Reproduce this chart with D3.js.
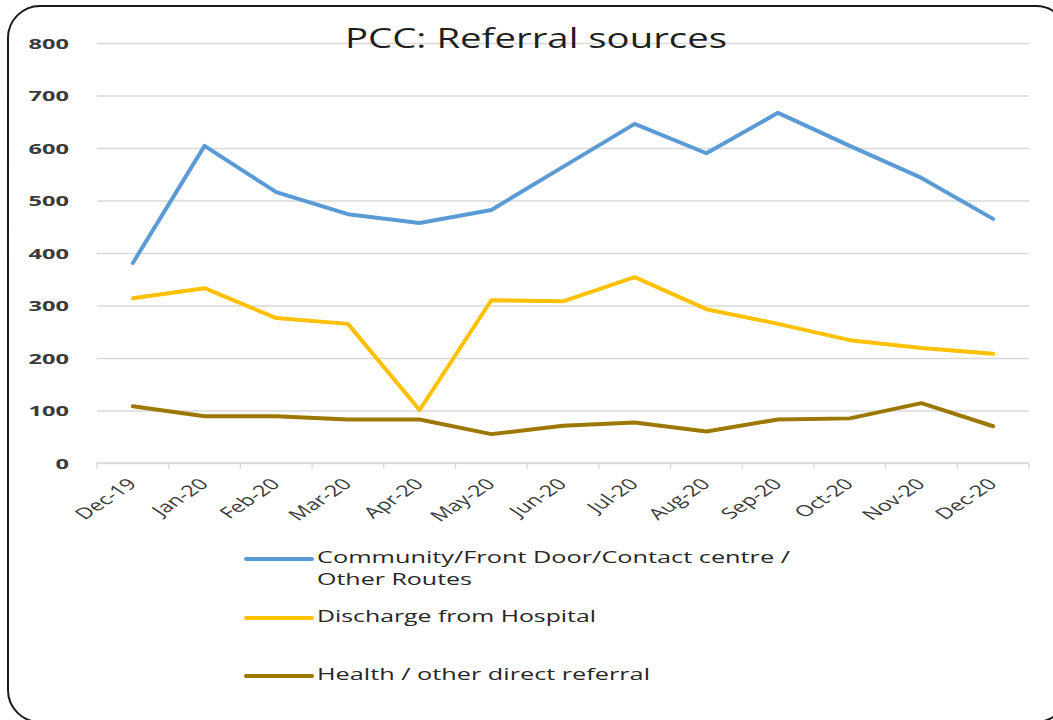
<!DOCTYPE html>
<html>
<head>
<meta charset="utf-8">
<script src="https://cdn.jsdelivr.net/npm/d3@7"></script>
<style>
  body { margin: 0; background: #fff; }
  svg { display: block; }
</style>
</head>
<body>
<svg id="chart" width="1053" height="720"></svg>
<script>
// Monthly referral counts by source
const months = ["Dec-19", "Jan-20", "Feb-20", "Mar-20", "Apr-20", "May-20", "Jun-20",
                "Jul-20", "Aug-20", "Sep-20", "Oct-20", "Nov-20", "Dec-20"];
const community = [381, 604, 516, 474, 457, 482, 564, 646, 590, 667, 604, 543, 465];
const discharge = [314, 333, 276, 265, 101, 310, 308, 354, 293, 265, 234, 219, 208];
const health    = [108, 89, 89, 83, 83, 55, 71, 77, 60, 83, 85, 114, 70];
const yTicks = [0, 100, 200, 300, 400, 500, 600, 700, 800];
const seriesLabels = [
  ["Community/Front Door/Contact centre /", "Other Routes"],
  ["Discharge from Hospital"],
  ["Health / other direct referral"]
];
const chartTitle = "PCC: Referral sources";

const series = [
  { values: community, color: "#5b9bd5", label: seriesLabels[0] },
  { values: discharge, color: "#ffc000", label: seriesLabels[1] },
  { values: health,    color: "#9c7800", label: seriesLabels[2] }
];

const svg = d3.select("#chart");
const FONT = "'Open Sans', 'Liberation Sans', sans-serif";

// Outer rounded frame
svg.append("rect")
  .attr("x", 8).attr("y", 6)
  .attr("width", 1060).attr("height", 716)
  .attr("rx", 32).attr("ry", 32)
  .attr("fill", "#fff")
  .attr("stroke", "#1a1a1a")
  .attr("stroke-width", 2);

const plot = { left: 97, right: 1029, top: 43, bottom: 463 };

const x = d3.scaleBand().domain(months).range([plot.left, plot.right]).padding(0);
const y = d3.scaleLinear().domain([0, 800]).range([plot.bottom, plot.top]);

// Gridlines and value labels
const yAxis = svg.append("g")
  .attr("transform", `translate(${plot.left},0)`)
  .call(d3.axisLeft(y).tickValues(yTicks).tickSize(-(plot.right - plot.left)).tickPadding(28));
yAxis.select(".domain").remove();
yAxis.selectAll(".tick line").attr("stroke", "#d9d9d9").attr("stroke-width", 1.3);
yAxis.selectAll(".tick text")
  .attr("font-family", FONT)
  .attr("font-weight", "bold")
  .attr("font-size", 15)
  .attr("fill", "#3a3a3a")
  .attr("dy", "0.36em")
  .attr("textLength", d => String(d).length * 13.5)
  .attr("lengthAdjust", "spacingAndGlyphs");

// Category axis: baseline, boundary ticks, slanted labels
const xg = svg.append("g").attr("transform", `translate(0,${plot.bottom})`);
xg.append("line")
  .attr("x1", plot.left).attr("x2", plot.right)
  .attr("stroke", "#d9d9d9").attr("stroke-width", 1.3);
const boundaries = months.map(m => x(m)).concat([x.range()[1]]);
xg.selectAll("line.tick")
  .data(boundaries)
  .join("line")
  .attr("class", "tick")
  .attr("x1", d => d).attr("x2", d => d)
  .attr("y1", 0).attr("y2", 6)
  .attr("stroke", "#d9d9d9").attr("stroke-width", 1.3);

// Labels are rotated 45° and widened horizontally
xg.selectAll("text.month")
  .data(months)
  .join("text")
  .attr("class", "month")
  .attr("font-family", FONT)
  .attr("font-size", 15.5)
  .attr("fill", "#3a3a3a")
  .attr("text-anchor", "end")
  .attr("transform", d => `translate(${x(d) + x.bandwidth() / 2 + 5},${22}) scale(1.5,1) rotate(-45)`)
  .text(d => d);

// Title
svg.append("text")
  .attr("x", 536).attr("y", 48)
  .attr("text-anchor", "middle")
  .attr("font-family", FONT)
  .attr("font-size", 27)
  .attr("fill", "#1f1f1f")
  .attr("textLength", 382)
  .attr("lengthAdjust", "spacingAndGlyphs")
  .text(chartTitle);

// Series lines
const line = d3.line()
  .x((d, i) => x(months[i]) + x.bandwidth() / 2)
  .y(d => y(d));

svg.selectAll("path.series")
  .data(series)
  .join("path")
  .attr("class", "series")
  .attr("fill", "none")
  .attr("stroke", d => d.color)
  .attr("stroke-width", 4)
  .attr("stroke-linejoin", "round")
  .attr("stroke-linecap", "round")
  .attr("d", d => line(d.values));

// Legend
const legendY = [559, 618, 676];
const legendWidths = [[473, 155], [279], [333]];
const legend = svg.selectAll("g.legend")
  .data(series)
  .join("g")
  .attr("class", "legend")
  .attr("transform", (d, i) => `translate(0,${legendY[i]})`);
legend.append("line")
  .attr("x1", 246).attr("x2", 312)
  .attr("stroke", d => d.color)
  .attr("stroke-width", 4)
  .attr("stroke-linecap", "round");
legend.each(function (d, i) {
  const g = d3.select(this);
  d.label.forEach((t, j) => {
    g.append("text")
      .attr("x", 317)
      .attr("y", 4 + j * 22)
      .attr("font-family", FONT)
      .attr("font-size", 16.5)
      .attr("fill", "#262626")
      .attr("textLength", legendWidths[i][j])
      .attr("lengthAdjust", "spacingAndGlyphs")
      .text(t);
  });
});
</script>
</body>
</html>
